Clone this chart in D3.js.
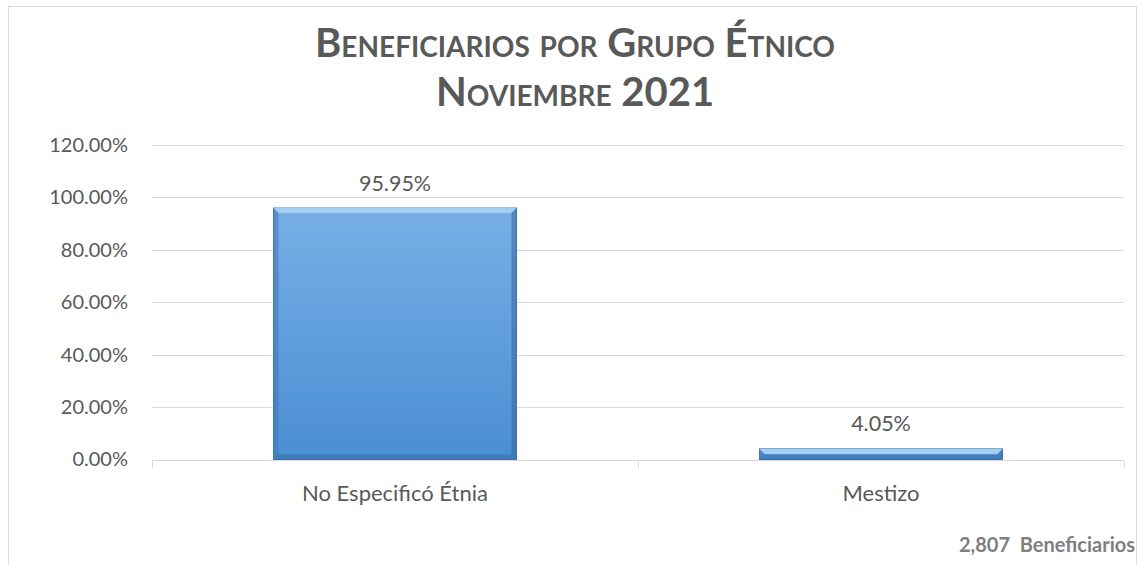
<!DOCTYPE html>
<html>
<head>
<meta charset="utf-8">
<script src="https://cdn.jsdelivr.net/npm/d3@7"></script>
<style>
  body { margin: 0; background: #fff; }
  svg { display: block; font-family: Lato, "Open Sans", sans-serif; }
</style>
</head>
<body>
<div id="chart"></div>
<script>
const categories = ["No Especificó Étnia", "Mestizo"];
const values = [95.95, 4.05];
const yTicks = [0, 20, 40, 60, 80, 100, 120];
const titleLines = ["Beneficiarios por Grupo Étnico", "Noviembre 2021"];
const footer = "2,807  Beneficiarios";

const width = 1139, height = 565;
const margin = { top: 145, right: 15, bottom: 105.5, left: 152 };

const svg = d3.select("#chart").append("svg")
    .attr("width", width)
    .attr("height", height);

// chart frame
svg.append("rect")
    .attr("x", 8.5).attr("y", 6.5)
    .attr("width", 1128).attr("height", 600)
    .attr("fill", "#fff")
    .attr("stroke", "#d9d9d9");

const defs = svg.append("defs");
const grad = defs.append("linearGradient")
    .attr("id", "barGrad")
    .attr("x1", 0).attr("y1", 0).attr("x2", 0).attr("y2", 1);
grad.append("stop").attr("offset", "0%").attr("stop-color", "#78afe6");
grad.append("stop").attr("offset", "100%").attr("stop-color", "#4a8ed3");

const x = d3.scaleBand()
    .domain(categories)
    .range([margin.left, width - margin.right])
    .paddingInner(0.5)
    .paddingOuter(0.25);

const y = d3.scaleLinear()
    .domain([0, 120])
    .range([height - margin.bottom, margin.top]);

// gridlines
svg.append("g")
    .selectAll("line")
    .data(yTicks.filter(d => d > 0))
    .join("line")
      .attr("x1", margin.left)
      .attr("x2", width - margin.right)
      .attr("y1", d => Math.round(y(d)) + 0.5)
      .attr("y2", d => Math.round(y(d)) + 0.5)
      .attr("stroke", "#d9d9d9")
      .attr("stroke-width", 1);

// y axis labels
const yAxis = d3.axisLeft(y)
    .tickValues(yTicks)
    .tickSize(0)
    .tickPadding(24)
    .tickFormat(d => d.toFixed(2) + "%");
svg.append("g")
    .attr("transform", `translate(${margin.left},0)`)
    .call(yAxis)
    .call(g => g.select(".domain").remove())
    .call(g => g.selectAll("text")
      .attr("fill", "#595959")
      .attr("font-size", 20)
      .attr("font-family", "Lato, sans-serif"));

// x axis
const x0 = Math.round(y(0)) + 0.5;
const xAxisG = svg.append("g");
xAxisG.append("line")
    .attr("x1", margin.left).attr("x2", width - margin.right)
    .attr("y1", x0).attr("y2", x0)
    .attr("stroke", "#d9d9d9");
const bounds = [margin.left, (margin.left + width - margin.right) / 2, width - margin.right];
xAxisG.selectAll(".tick-mark")
    .data(bounds)
    .join("line")
      .attr("class", "tick-mark")
      .attr("x1", d => Math.round(d) + 0.5).attr("x2", d => Math.round(d) + 0.5)
      .attr("y1", x0).attr("y2", x0 + 7)
      .attr("stroke", "#d9d9d9");
xAxisG.selectAll(".cat")
    .data(categories)
    .join("text")
      .attr("class", "cat")
      .attr("x", d => x(d) + x.bandwidth() / 2)
      .attr("y", 501)
      .attr("text-anchor", "middle")
      .attr("fill", "#595959")
      .attr("font-size", 22)
      .text(d => d);

// bars
const bars = svg.append("g")
    .selectAll("g")
    .data(categories.map((c, i) => ({ c, v: values[i] })))
    .join("g");

bars.append("rect")
    .attr("x", d => x(d.c))
    .attr("y", d => y(d.v))
    .attr("width", x.bandwidth())
    .attr("height", d => y(0) - y(d.v))
    .attr("fill", "url(#barGrad)")
    .attr("stroke", "#3f78b3")
    .attr("stroke-width", 1);

// bevel highlights
const bev = 5;
bars.append("polygon")
    .attr("points", d => {
      const x1 = x(d.c), x2 = x1 + x.bandwidth(), t = y(d.v);
      const b = Math.min(bev, (y(0) - t) / 2);
      return [[x1, t], [x2, t], [x2 - b, t + b], [x1 + b, t + b]].join(" ");
    })
    .attr("fill", "#a9d4f5")
    .attr("opacity", 0.9);
bars.append("polygon")
    .attr("points", d => {
      const x1 = x(d.c), x2 = x1 + x.bandwidth(), t = y(d.v), bt = y(0);
      const b = Math.min(bev, (bt - t) / 2);
      return [[x1, bt], [x2, bt], [x2 - b, bt - b], [x1 + b, bt - b]].join(" ");
    })
    .attr("fill", "#3a6fa6")
    .attr("opacity", 0.6);
bars.append("polygon")
    .attr("points", d => {
      const x1 = x(d.c), t = y(d.v), bt = y(0);
      const b = Math.min(bev, (bt - t) / 2);
      return [[x1, t], [x1 + b, t + b], [x1 + b, bt - b], [x1, bt]].join(" ");
    })
    .attr("fill", "#3f78b3")
    .attr("opacity", 0.55);
bars.append("polygon")
    .attr("points", d => {
      const x2 = x(d.c) + x.bandwidth(), t = y(d.v), bt = y(0);
      const b = Math.min(bev, (bt - t) / 2);
      return [[x2, t], [x2 - b, t + b], [x2 - b, bt - b], [x2, bt]].join(" ");
    })
    .attr("fill", "#36679b")
    .attr("opacity", 0.55);

// data labels
bars.append("text")
    .attr("x", d => x(d.c) + x.bandwidth() / 2)
    .attr("y", d => y(d.v) - 17.5)
    .attr("text-anchor", "middle")
    .attr("fill", "#595959")
    .attr("font-size", 21.5)
    .text(d => d.v.toFixed(2) + "%");

// title
svg.append("g")
    .selectAll("text")
    .data(titleLines)
    .join("text")
      .attr("x", 575)
      .attr("y", (d, i) => 57 + i * 49)
      .attr("text-anchor", "middle")
      .attr("fill", "#595959")
      .attr("font-size", 40)
      .attr("font-weight", "bold")
      .style("font-variant", "small-caps")
      .text(d => d);

// footer
svg.append("text")
    .attr("x", 1135)
    .attr("y", 552)
    .attr("text-anchor", "end")
    .attr("fill", "#7f7f7f")
    .attr("font-size", 20)
    .attr("font-weight", "bold")
    .style("white-space", "pre")
    .text(footer);
</script>
</body>
</html>
